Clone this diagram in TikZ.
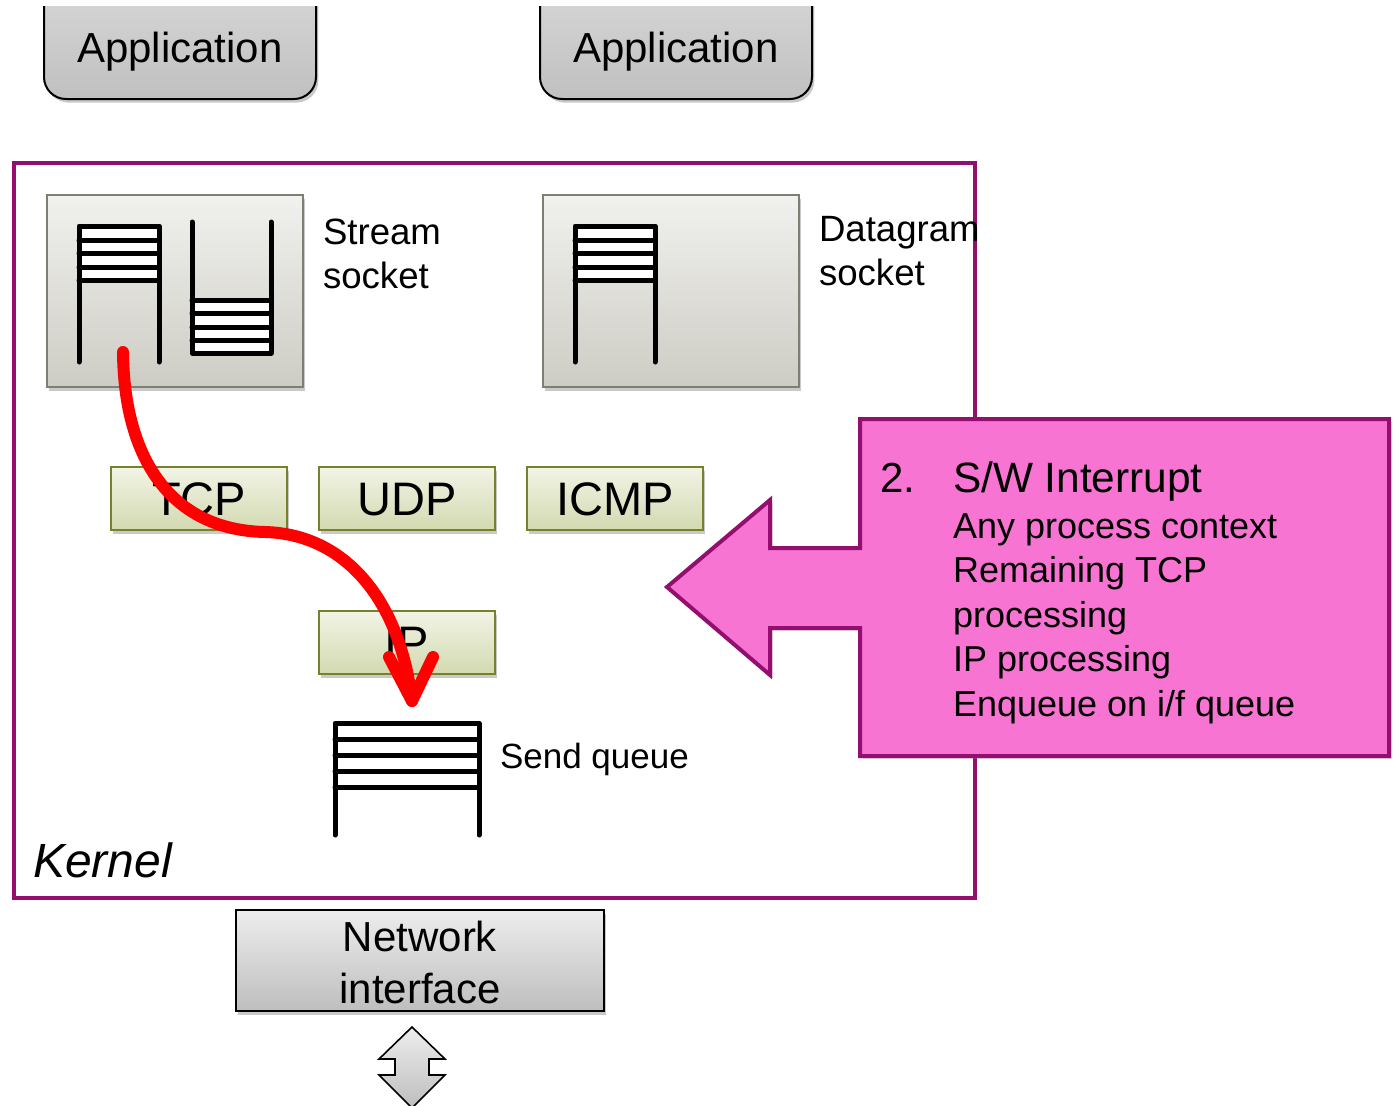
\documentclass[tikz,border=0pt]{standalone}
\usepackage{fontspec}
\setmainfont{Liberation Sans}
\usetikzlibrary{shadows,calc}
\definecolor{kpurple}{HTML}{930E6E}
\definecolor{cpink}{HTML}{F874D2}
\definecolor{sockline}{HTML}{7E7E72}
\definecolor{socktop}{HTML}{F1F1EF}
\definecolor{sockbot}{HTML}{CDCCC4}
\definecolor{protoline}{HTML}{79802C}
\definecolor{prototop}{HTML}{F3F4E6}
\definecolor{protobot}{HTML}{D3D9B0}
\definecolor{apptop}{HTML}{DCDCDC}
\definecolor{appbot}{HTML}{C0C0C0}
\definecolor{nictop}{HTML}{EDEDED}
\definecolor{nicbot}{HTML}{BEBEBE}
\begin{document}
\begin{tikzpicture}[x=0.5pt,y=-0.5pt,
  every node/.style={inner sep=0pt,outer sep=0pt},
  shd/.style={drop shadow={shadow xshift=1.2pt,shadow yshift=-1.8pt,opacity=0.3,fill=black!70}},
  appbox/.style={draw=black,line width=1pt,rounded corners=11pt,top color=apptop,bottom color=appbot,shd,minimum width=136pt,minimum height=70pt},
  sockbox/.style={draw=sockline,line width=0.9pt,top color=socktop,bottom color=sockbot,shd,minimum width=128pt,minimum height=96pt},
  protobox/.style={draw=protoline,line width=0.9pt,top color=prototop,bottom color=protobot,shd,minimum width=88pt,minimum height=31.5pt},
  nicbox/.style={draw=black,line width=0.9pt,top color=nictop,bottom color=nicbot,shd,minimum width=184pt,minimum height=50.5pt},
  qline/.style={line width=2.5pt,line cap=round,line join=round},
  bigtxt/.style={anchor=base,font=\fontsize{21pt}{21pt}\selectfont},
  prototxt/.style={anchor=base,font=\fontsize{23.5pt}{23.5pt}\selectfont},
  lbl/.style={anchor=base west,font=\fontsize{18.3pt}{18pt}\selectfont},
  ctxt/.style={anchor=base west,font=\fontsize{18pt}{18pt}\selectfont},
  redline/.style={draw=red,line width=6pt,line cap=round,line join=round}
]
\useasboundingbox (0,0) rectangle (1393,1105);
\clip (0,0) rectangle (1393,1105);

% Applications (cut off at the top)
\begin{scope}
\clip (0,6) rectangle (1393,140);
\node[appbox] (app1) at (180,29) {};
\node[appbox] (app2) at (676,29) {};
\end{scope}
\node[bigtxt] (app1t) at (180,62) {Application};
\node[bigtxt] (app2t) at (676,62) {Application};

% Kernel
\node[draw=kpurple,line width=2pt,minimum width=480.5pt,minimum height=367.5pt] (kernel) at (494.5,530.5) {};
\node[anchor=base west,font=\itshape\fontsize{24pt}{24pt}\selectfont] (kernelt) at (33,877) {Kernel};

% Sockets
\node[sockbox] (stream) at (175,291) {};
\node[sockbox] (dgram) at (671,291) {};
\node[lbl] (streamt1) at (323,244) {Stream};
\node[lbl] (streamt2) at (323,288) {socket};
\node[lbl] (dgramt1) at (819,241) {Datagram};
\node[lbl] (dgramt2) at (819,285) {socket};

% stream socket queues
\fill[white] (79,226) rectangle (159,280);
\draw[qline] (79,362) -- (79,226) -- (159,226) -- (159,362);
\foreach \y in {240,253,267,280} \draw[qline] (79,\y) -- (159,\y);
\fill[white] (192,300) rectangle (271,353);
\draw[qline] (192,222) -- (192,353) -- (271,353) -- (271,222);
\foreach \y in {300,313,327,340} \draw[qline] (192,\y) -- (271,\y);
% datagram queue
\fill[white] (575,226) rectangle (655,280);
\draw[qline] (575,362) -- (575,226) -- (655,226) -- (655,362);
\foreach \y in {240,253,267,280} \draw[qline] (575,\y) -- (655,\y);

% Protocols
\node[protobox] (tcp) at (199,498.5) {};
\node[prototxt] (tcpt) at (199,515) {TCP};
\node[protobox] (udp) at (407,498.5) {};
\node[prototxt] (udpt) at (407,515) {UDP};
\node[protobox] (icmp) at (615,498.5) {};
\node[prototxt] (icmpt) at (615,515) {ICMP};
\node[protobox] (ip) at (407,642.5) {};
\node[prototxt] (ipt) at (407,659) {IP};

% Send queue
\fill[white] (335,723) rectangle (479,787);
\draw[qline] (335,835) -- (335,723) -- (479,723) -- (479,835);
\foreach \y in {739,755,771,787} \draw[qline] (335,\y) -- (479,\y);
\node[lbl,font=\fontsize{17.5pt}{17.5pt}\selectfont] (sendt) at (500,768) {Send queue};

% Network interface
\node[nicbox] (nic) at (420,960.5) {};
\node[bigtxt] (nict1) at (420,951) {Network};
\node[bigtxt] (nict2) at (420,1003) {interface};
\draw[line width=0.8pt,top color=nictop,bottom color=nicbot]
  (412,1027) -- (445,1059) -- (429,1059) -- (429,1075) -- (445,1075) -- (412,1108)
  -- (379,1075) -- (395,1075) -- (395,1059) -- (379,1059) -- cycle;

% Callout
\draw[draw=kpurple,line width=2pt,fill=cpink,line join=miter,drop shadow={shadow xshift=1.5pt,shadow yshift=-1.5pt,opacity=0.25}]
  (860,419) -- (1389,419) -- (1389,756) -- (860,756) -- (860,628) -- (770,628)
  -- (770,675) -- (667,587) -- (770,500) -- (770,548) -- (860,548) -- cycle;
\node[anchor=base west,font=\fontsize{21pt}{21pt}\selectfont] (c0) at (880,492) {2.};
\node[anchor=base west,font=\fontsize{21.2pt}{21pt}\selectfont] (c1) at (953,492) {S/W Interrupt};
\node[ctxt] (c2) at (953,538) {Any process context};
\node[ctxt] (c3) at (953,582) {Remaining TCP};
\node[ctxt] (c4) at (953,627) {processing};
\node[ctxt] (c5) at (953,671) {IP processing};
\node[ctxt] (c6) at (953,716) {Enqueue on i/f queue};

% Red arrow
\coordinate (rs) at (123,352);
\coordinate (rt) at (412,701);
\draw[redline] (rs) .. controls (124,460) and (172,530) .. (265,532)
  .. controls (345,534) and (400,600) .. (rt);
\draw[redline] ($(rt)+(-23,-44)$) -- (rt) -- ($(rt)+(21,-44)$);
\end{tikzpicture}
\end{document}
